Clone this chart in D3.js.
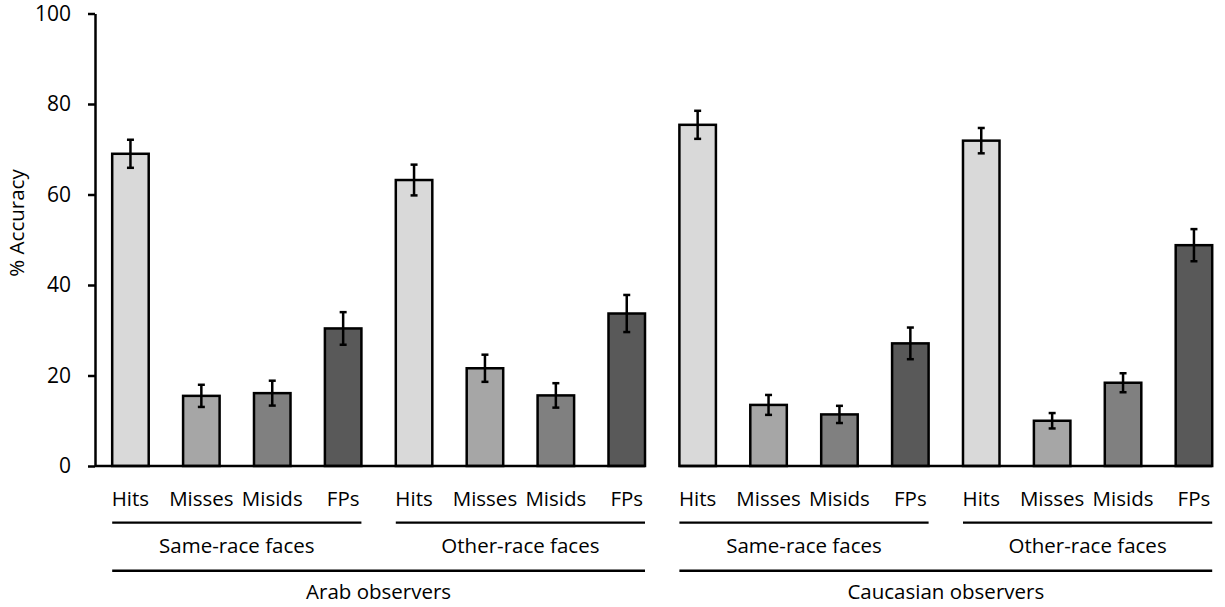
<!DOCTYPE html>
<html>
<head>
<meta charset="utf-8">
<script src="https://cdn.jsdelivr.net/npm/d3@7"></script>
<style>
  html, body { margin: 0; padding: 0; background: #fff; }
  svg text { font-family: "Open Sans", "Noto Sans", sans-serif; fill: #000; }
</style>
</head>
<body>
<svg id="chart" width="1225" height="607"></svg>
<script>
// Response categories, face groups and observer groups
const categories = ["Hits", "Misses", "Misids", "FPs"];
const faceGroups = ["Same-race faces", "Other-race faces"];
const observers = ["Arab observers", "Caucasian observers"];
const yTicks = [0, 20, 40, 60, 80, 100];

// Mean % accuracy and error (±) per observer group and face group
const arabSame = [69.0, 15.5, 16.1, 30.4];
const arabSameErr = [3.1, 2.45, 2.75, 3.6];
const arabOther = [63.2, 21.6, 15.6, 33.7];
const arabOtherErr = [3.4, 3.0, 2.7, 4.1];
const caucSame = [75.4, 13.5, 11.4, 27.1];
const caucSameErr = [3.1, 2.2, 1.9, 3.5];
const caucOther = [71.9, 10.0, 18.4, 48.8];
const caucOtherErr = [2.8, 1.7, 2.1, 3.55];

const fills = ["#d9d9d9", "#a6a6a6", "#808080", "#595959"];

const seriesTable = [
  [arabSame, arabSameErr, arabOther, arabOtherErr],
  [caucSame, caucSameErr, caucOther, caucOtherErr]
];

// Flatten into one row per bar
const rows = [];
observers.forEach((obs, oi) => {
  faceGroups.forEach((fg, gi) => {
    const vals = seriesTable[oi][gi * 2];
    const errs = seriesTable[oi][gi * 2 + 1];
    categories.forEach((cat, ci) => {
      rows.push({ key: `${oi}|${gi}|${ci}`, obs: oi, group: gi, cat: ci, value: vals[ci], err: errs[ci] });
    });
  });
});

const svg = d3.select("#chart");
const axisX = 95;
const y0 = 466;

const x = d3.scaleBand()
  .domain(rows.map(d => d.key))
  .range([axisX, axisX + 16 * 70.9])
  .paddingInner(0.485)
  .paddingOuter(0.2425);

const y = d3.scaleLinear().domain([0, 100]).range([y0, 13.5]);

// Y axis
const yAxis = svg.append("g")
  .attr("transform", `translate(${axisX},0)`)
  .call(d3.axisLeft(y).tickValues(yTicks).tickSize(7).tickPadding(17).tickSizeOuter(0));
yAxis.select(".domain").attr("stroke", "#000").attr("stroke-width", 2.5);
yAxis.selectAll(".tick line").attr("stroke", "#000").attr("stroke-width", 2.5);
yAxis.selectAll(".tick text")
  .attr("font-size", 21)
  .attr("font-family", "'Open Sans', sans-serif")
  .attr("fill", "#000");

svg.append("text")
  .attr("transform", `translate(24,223) rotate(-90)`)
  .attr("text-anchor", "middle")
  .attr("font-size", 20.5)
  .text("% Accuracy");

// Bars
svg.append("g").selectAll("rect")
  .data(rows)
  .join("rect")
  .attr("x", d => x(d.key))
  .attr("width", x.bandwidth())
  .attr("y", d => y(d.value))
  .attr("height", d => y(0) - y(d.value))
  .attr("fill", d => fills[d.cat])
  .attr("stroke", "#000")
  .attr("stroke-width", 2.5);

// Error bars
const cap = 3.5;
const eb = svg.append("g").attr("stroke", "#000").attr("stroke-width", 2.5);
rows.forEach(d => {
  const cx = x(d.key) + x.bandwidth() / 2;
  const top = y(d.value + d.err), bot = y(d.value - d.err);
  eb.append("line").attr("x1", cx).attr("x2", cx).attr("y1", top).attr("y2", bot);
  eb.append("line").attr("x1", cx - cap).attr("x2", cx + cap).attr("y1", top).attr("y2", top);
  eb.append("line").attr("x1", cx - cap).attr("x2", cx + cap).attr("y1", bot).attr("y2", bot);
});

// Baselines per observer panel
observers.forEach((obs, oi) => {
  const panel = rows.filter(d => d.obs === oi);
  const first = panel[0], last = panel[panel.length - 1];
  const x1 = oi === 0 ? axisX : x(first.key);
  const x2 = x(last.key) + x.bandwidth();
  svg.append("line")
    .attr("x1", x1).attr("x2", x2).attr("y1", y0).attr("y2", y0)
    .attr("stroke", "#000").attr("stroke-width", 2.5);
});

// Category labels
svg.append("g").selectAll("text")
  .data(rows)
  .join("text")
  .attr("x", d => x(d.key) + x.bandwidth() / 2)
  .attr("y", 505.5)
  .attr("text-anchor", "middle")
  .attr("font-size", 20.5)
  .text(d => categories[d.cat]);

// Face-group brackets
observers.forEach((obs, oi) => {
  faceGroups.forEach((fg, gi) => {
    const grp = rows.filter(d => d.obs === oi && d.group === gi);
    const gx1 = x(grp[0].key);
    const gx2 = x(grp[grp.length - 1].key) + x.bandwidth();
    svg.append("line")
      .attr("x1", gx1).attr("x2", gx2).attr("y1", 522.7).attr("y2", 522.7)
      .attr("stroke", "#000").attr("stroke-width", 2.2);
    svg.append("text")
      .attr("x", (gx1 + gx2) / 2).attr("y", 552.5)
      .attr("text-anchor", "middle")
      .attr("font-size", 20.5)
      .text(fg);
  });
  // Observer-group bracket
  const panel = rows.filter(d => d.obs === oi);
  const ox1 = x(panel[0].key);
  const ox2 = x(panel[panel.length - 1].key) + x.bandwidth();
  svg.append("line")
    .attr("x1", ox1).attr("x2", ox2).attr("y1", 570.7).attr("y2", 570.7)
    .attr("stroke", "#000").attr("stroke-width", 2.5);
  svg.append("text")
    .attr("x", (ox1 + ox2) / 2).attr("y", 599)
    .attr("text-anchor", "middle")
    .attr("font-size", 20.5)
    .text(obs);
});
</script>
</body>
</html>
